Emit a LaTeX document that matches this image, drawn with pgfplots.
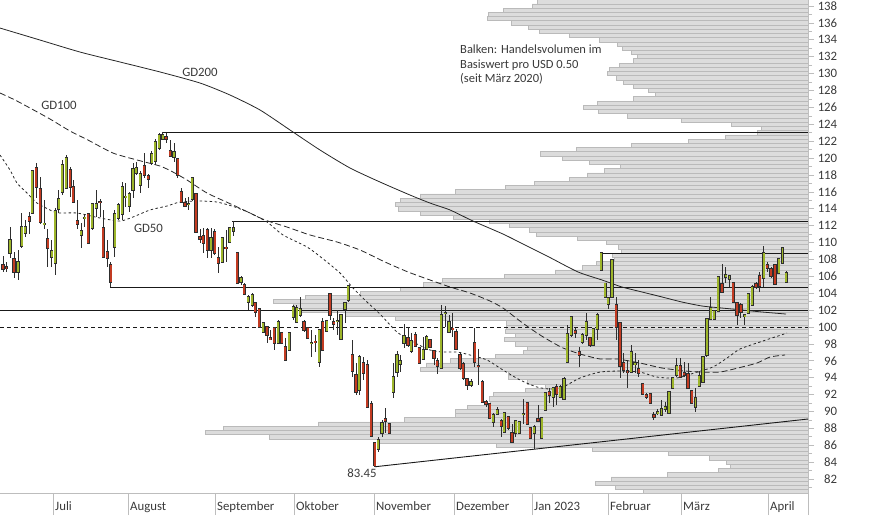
\documentclass[border=0pt]{standalone}
\usepackage{fontspec}
\setmainfont{Carlito}
\usepackage{pgfplots}
\pgfplotsset{compat=1.18}
\usepackage{pgfplotstable}
\definecolor{upc}{HTML}{9DB52A}
\definecolor{dnc}{HTML}{C23B22}
\definecolor{wick}{HTML}{2E2E2E}
\definecolor{txt}{HTML}{3A3A3A}
\definecolor{barfill}{HTML}{DCDCDC}
\definecolor{barline}{HTML}{BABABA}
\definecolor{axgray}{HTML}{BDBDBD}

\pgfplotstableread{
v L
138.5 537
138.0 532
137.5 503
137.0 488
136.5 487
136.0 511
135.5 528
135.0 539
134.5 569
134.0 599
133.5 617
133.0 622
132.5 631
132.0 637
131.5 633
131.0 619
130.5 609
130.0 607
129.5 616
129.0 623
128.5 633
128.0 648
127.5 655
127.0 633
126.5 597
126.0 583
125.5 598
125.0 627
124.5 681
124.0 731
123.5 761
123.0 757
122.5 725
122.0 688
121.5 631
121.0 576
120.5 540
120.0 562
119.5 589
119.0 620
118.5 604
118.0 587
117.5 569
117.0 534
116.5 505
116.0 455
115.5 420
115.0 400
114.5 395
114.0 398
113.5 420
113.0 453
112.5 489
112.0 509
111.5 529
111.0 536
110.5 577
110.0 606
109.5 618
109.0 621
108.5 612
108.0 614
107.5 596
107.0 582
106.5 555
106.0 504
105.5 442
105.0 423
104.5 400
104.0 360
103.5 305
103.0 273
102.5 293
102.0 300
101.5 345
101.0 395
100.5 506
100.0 506
99.5 505
99.0 515
98.5 504
98.0 515
97.5 527
97.0 523
96.5 495
96.0 450
95.5 426
95.0 420
94.5 508
94.0 508
93.5 527
93.0 545
92.5 525
92.0 493
91.5 489
91.0 490
90.5 467
90.0 455
89.5 455
89.0 404
88.5 318
88.0 223
87.5 205
87.0 269
86.5 378
86.0 496
85.5 592
85.0 668
84.5 709
84.0 726
83.5 730
83.0 718
82.5 667
82.0 611
81.5 595
81.0 615
80.5 643
}\profile

\pgfplotstableread{
x o h l c
10 108.75 111.83 108.16 110.29
18 106.51 109.11 105.56 107.69
21.7 109.58 113.49 109.35 111.83
25.3 111.12 112.66 110.65 111.83
32.3 113.49 118.58 113.49 118.46
44.3 112.13 115.03 111.60 112.25
51.7 108.28 110.29 107.10 108.99
55.3 107.57 114.08 106.15 113.73
58.7 113.96 116.21 113.49 115.15
62.3 115.98 119.77 115.62 119.17
66.3 116.45 120.36 116.33 120.00
81.3 110.89 112.31 109.35 111.36
84.7 112.84 113.25 111.83 112.96
92.3 111.71 114.67 111.48 114.56
96.3 114.08 116.21 113.02 114.56
114.7 109.47 113.85 108.28 113.37
118.3 112.90 114.67 112.66 114.44
122.3 113.37 117.16 112.66 116.57
125.7 115.33 117.04 114.20 115.45
129.3 114.32 115.98 113.61 115.74
133 116.21 119.41 115.27 118.70
136.3 118.23 119.53 117.99 118.82
140.3 116.81 118.46 115.86 118.11
151.7 119.41 120.83 119.17 120.48
155.3 119.65 122.25 119.17 121.90
159.3 121.19 122.96 120.95 122.73
162.7 122.25 123.08 122.13 122.73
174 120.12 121.78 119.53 120.71
188.7 114.50 115.39 113.85 114.61
192.3 115.15 117.63 114.91 117.63
211 109.11 111.71 108.16 110.53
222.3 107.69 110.65 107.57 110.53
229.7 110.06 111.83 109.94 111.71
233.5 111.36 112.54 110.77 111.71
241 105.32 106.03 104.97 105.80
248.3 102.95 103.78 102.01 103.55
252.3 102.60 104.02 102.36 103.78
263.3 99.40 100.58 99.28 100.47
278.3 98.10 100.82 97.98 100.58
289.3 97.27 99.40 97.15 99.28
293.3 101.18 102.60 100.82 102.36
296.7 100.58 102.60 100.47 102.24
300.3 101.41 103.55 101.18 102.13
311.3 98.04 99.64 96.44 98.16
319.3 95.85 99.76 95.26 99.64
326.7 99.52 100.82 99.40 100.70
337.3 100.64 102.01 99.05 100.76
341 98.57 101.53 98.45 101.41
345 102.13 102.95 100.47 102.84
348.3 103.19 104.97 102.95 104.85
359.3 92.53 96.68 91.94 96.44
378.3 85.55 86.97 85.19 86.61
382 87.44 88.98 86.97 88.63
393.3 92.30 95.73 91.59 94.07
397 94.66 97.15 94.07 96.68
400.3 95.61 96.68 94.66 95.97
404 98.10 100.35 97.51 98.93
411.3 97.15 99.28 96.91 98.34
423.3 96.21 98.81 96.09 97.27
426.7 97.39 99.05 97.27 98.81
441.3 95.14 102.60 95.02 101.41
445.3 101.59 102.48 99.99 101.71
449 99.40 101.41 99.28 100.58
471 93.13 93.84 92.89 93.48
493.3 88.74 89.81 88.15 89.57
497.3 89.69 90.52 89.57 90.17
504.3 87.56 89.81 87.56 89.81
515.7 87.44 88.98 86.97 88.86
519.3 87.44 88.86 87.33 88.74
523.3 89.63 91.47 88.51 89.75
534.3 87.44 88.39 85.60 88.15
541.7 86.85 89.34 86.73 89.22
545.3 90.17 92.30 90.05 92.18
553.3 91.71 92.89 90.52 92.77
560.3 91.71 93.13 91.59 92.89
564 91.47 94.07 91.35 93.84
567.3 95.85 100.23 95.85 99.17
571.3 99.05 101.29 98.81 101.18
582.3 98.22 99.28 97.98 99.05
586.3 99.05 101.65 98.45 100.58
593.3 97.86 99.88 97.74 99.76
597.3 99.76 101.65 98.45 101.41
601.3 106.74 108.75 106.62 108.75
605.3 103.51 105.24 103.39 105.17
608.3 102.72 103.55 102.13 103.43
612 103.55 108.04 103.55 107.93
631.3 94.66 97.86 94.55 97.03
635.0 95.61 96.92 94.55 95.73
657.7 89.81 90.29 89.57 89.93
661.5 89.57 91.35 89.46 90.29
665.3 90.29 91.11 89.93 90.52
669.1 89.81 92.42 89.81 92.30
672.8 92.77 94.07 92.77 93.96
676.6 94.31 96.32 94.07 95.38
695.5 90.52 92.77 89.93 91.59
699.3 93.01 94.78 92.89 94.19
703.1 93.48 96.44 93.36 96.44
706.9 96.68 101.06 96.44 100.94
710.6 100.94 103.55 100.82 102.24
714.4 100.94 102.01 100.82 101.89
718.2 101.89 105.91 101.77 105.91
725.8 105.91 107.10 105.20 106.15
729.5 105.67 106.15 104.73 106.03
744.7 101.29 101.53 100.23 101.41
748.4 101.65 104.02 101.65 103.90
752.2 102.60 104.97 102.60 104.73
763.6 105.80 109.58 104.73 108.75
778.7 106.39 108.16 106.39 108.04
782.5 107.57 109.47 107.57 109.35
786.3 105.32 106.62 105.20 106.39
}\up

\pgfplotstableread{
x o h l c
3 107.33 108.40 106.51 106.86
6.5 107.10 107.69 106.51 106.93
14 108.04 108.87 105.80 106.51
29.3 113.02 113.61 111.00 112.54
36.3 118.82 119.41 115.27 116.57
40.3 116.33 117.75 112.19 112.43
47.7 110.41 111.60 107.10 109.35
70.3 118.58 118.94 115.39 116.57
73.3 116.57 117.40 114.67 114.79
77.3 112.54 115.03 111.60 112.19
88.3 113.37 113.49 109.82 109.94
100 114.85 115.15 113.02 114.73
103.3 111.71 113.85 108.28 108.28
107.3 108.87 110.29 107.10 108.16
110.7 107.33 107.69 104.73 105.32
144.3 119.05 120.59 117.63 117.99
148.3 117.87 118.11 116.45 117.52
166 122.49 122.96 121.78 122.25
170.3 120.83 122.13 120.12 120.24
177.7 119.89 120.00 117.63 117.99
181.3 115.98 116.45 114.67 114.79
185 114.67 115.27 114.20 114.32
196 115.74 115.86 111.24 111.24
200 110.65 111.60 109.94 110.41
203.3 110.77 111.71 108.75 109.94
207.3 111.48 111.71 108.16 109.11
214.7 111.24 111.60 108.52 108.75
218.3 108.16 109.47 106.39 107.57
226 109.41 111.48 107.69 109.29
237.3 108.75 108.87 105.20 105.20
244.3 104.97 105.20 103.78 103.90
255.3 102.84 102.95 101.18 101.77
259.3 102.13 102.24 99.99 99.99
267 99.99 100.11 98.10 99.05
270.3 98.69 99.64 98.45 98.57
274.3 99.88 99.99 97.27 98.10
281.7 99.28 99.40 97.98 98.10
285.3 97.62 98.69 95.97 96.09
304 100.58 100.82 99.40 99.64
307.7 99.88 99.99 98.69 98.69
315.3 98.30 99.05 97.03 98.18
322.7 100.58 101.06 97.15 97.27
330 103.90 104.02 100.82 101.41
333.7 100.58 101.06 99.64 100.35
352.3 96.68 98.45 94.07 94.78
356 94.31 95.73 91.94 92.30
363.3 95.73 96.44 93.72 94.55
367.3 95.49 96.09 90.40 90.52
371.3 90.88 91.23 86.97 87.09
374.7 86.26 86.38 83.45 83.56
385.3 89.10 90.40 87.44 88.86
389.3 88.51 88.63 87.33 87.44
408 98.69 99.99 97.62 97.86
415.3 99.05 99.40 97.62 97.74
419.3 97.51 97.62 95.73 95.73
430 98.45 98.57 97.51 97.62
434 97.15 97.27 95.49 96.32
437.3 95.97 96.32 94.43 95.38
452.7 99.82 101.65 98.81 99.70
456 99.40 99.76 97.27 97.39
460 96.68 97.03 94.90 95.14
463.3 95.61 95.85 93.72 93.95
467 93.84 93.95 92.53 93.13
474.7 98.10 99.88 95.26 95.85
478.3 95.43 97.39 93.13 95.31
482.3 93.48 93.72 91.00 91.11
486 91.11 91.35 90.52 90.88
489.7 90.88 91.00 89.10 89.22
501.3 88.86 89.10 86.97 88.27
508.3 89.34 89.34 87.80 88.03
512 87.44 88.51 86.38 86.38
527.3 91.00 91.11 88.39 88.51
530.3 88.03 88.15 86.73 86.85
538 89.10 90.76 88.74 88.86
549.3 92.30 92.77 91.00 91.94
556.7 92.89 93.24 90.76 92.06
575.3 99.52 99.88 98.69 99.28
579.3 97.03 97.62 95.26 96.68
590 98.69 98.81 97.62 97.86
616.3 102.60 103.55 98.45 99.99
620 100.47 100.47 93.96 95.38
623.7 95.73 96.92 94.55 94.90
627.5 94.78 96.09 92.77 94.66
638.8 95.02 96.09 94.07 94.55
642.6 93.24 93.36 91.94 92.06
646.4 91.94 92.18 91.47 91.71
650.2 92.06 92.06 91.00 91.00
653.9 89.57 89.93 88.98 89.34
680.4 95.38 96.32 94.07 94.07
684.2 94.55 95.85 94.07 94.31
688.0 94.43 95.73 92.65 92.77
691.7 92.42 92.53 91.00 91.00
722.0 105.08 107.45 104.02 104.14
733.3 105.20 105.32 102.84 102.95
737.1 102.84 102.95 100.23 101.41
740.9 102.60 102.84 101.06 101.77
756.0 105.08 105.32 104.49 104.73
759.8 106.03 106.51 104.14 104.85
767.3 107.33 107.69 106.51 106.98
771.1 106.86 107.10 105.80 106.03
774.9 107.33 107.45 104.97 105.08
}\down

\pgfplotsset{
  wicks/.style={draw=none, error bars/.cd, y dir=both, y explicit, error mark=none,
    error bar style={draw=wick, line width=0.9pt}},
  bodyout/.style={draw=none, error bars/.cd, y dir=both, y explicit, error mark=none,
    error bar style={draw=wick, line width=3.3pt}},
  bodyin/.style={draw=none, error bars/.cd, y dir=both, y explicit, error mark=none,
    error bar style={draw=#1, line width=1.9pt}},
}

\begin{document}
\begin{tikzpicture}
\useasboundingbox (0pt,0pt) rectangle (874pt,-515pt);
% volume profile and price axis
\begin{axis}[at={(0pt,0pt)}, anchor=north west, scale only axis,
  width=808pt, height=493pt,
  xmin=-808, xmax=0, ymin=80.34, ymax=138.71,
  axis x line=none, axis y line*=right,
  axis line style={draw=axgray, line width=0.8pt, -},
  ytick={82,84,...,138}, minor ytick={81,83,...,137},
  tick align=outside, major tick length=6pt, minor tick length=4pt,
  tick style={draw=axgray, line width=0.6pt},
  yticklabel style={anchor=west, text width=23pt, align=right, inner sep=0pt,
    font=\fontsize{12.8}{14}\selectfont, text=txt},
  /pgf/number format/assume math mode=true,
  /pgf/number format/1000 sep={},
]
\addplot[xbar, bar width=4.223pt, draw=barline, fill=barfill, line width=0.6pt]
  table[x expr=\thisrow{L}-808, y=v] {\profile};
\end{axis}
% main chart
\begin{axis}[at={(0pt,0pt)}, anchor=north west, scale only axis,
  width=808pt, height=493pt,
  xmin=0, xmax=808, ymin=80.34, ymax=138.71,
  axis y line=none, axis x line*=bottom,
  axis line style={draw=axgray, line width=0.8pt, -},
  xtick={53,128,215,294,374,454,532,608,681,768,808},
  xticklabels={Juli,August,September,Oktober,November,Dezember,Jan 2023,Februar,März,April,{}},
  tick align=outside, major tick length=22pt,
  tick style={draw=axgray, line width=0.8pt},
  xticklabel style={anchor=base west, inner xsep=0pt, xshift=2pt, yshift=4.5pt,
    font=\fontsize{12.8}{14}\selectfont, text=txt},
]
% horizontal levels
\addplot[draw=black!90, line width=0.9pt] coordinates {(163,123.08) (808,123.08)};
\addplot[draw=black!90, line width=0.9pt] coordinates {(232,112.54) (808,112.54)};
\addplot[draw=black!90, line width=0.9pt] coordinates {(600,108.75) (808,108.75)};
\addplot[draw=black!90, line width=0.9pt] coordinates {(110,104.73) (808,104.73)};
\addplot[draw=black!90, line width=0.9pt] coordinates {(0,102.01) (808,102.01)};
\addplot[draw=black!90, line width=0.9pt, dash pattern=on 4pt off 3pt] coordinates {(0,99.93) (808,99.93)};
\addplot[draw=black!90, line width=0.9pt] coordinates {(375,83.45) (808,89.10)};
% GD200
\addplot[draw=black!85, line width=0.8pt, smooth, tension=0.4] coordinates {
(0,135.39) (40,133.97) (80,132.55) (120,131.37) (160,130.19) (200,128.88)
(230,127.46) (260,125.69) (290,123.32) (320,120.95) (350,118.82) (380,117.16)
(410,115.62) (430,114.67) (450,113.85) (473,112.54) (503,111.00) (525,109.70)
(549,108.28) (578,106.51) (602,105.56) (622,104.73) (642,104.14) (662,103.55)
(682,102.95) (702,102.48) (722,102.24) (742,102.01) (762,101.77) (786,101.53)};
% GD100
\addplot[draw=black!85, line width=0.8pt, dash pattern=on 6pt off 3pt, smooth, tension=0.4] coordinates {
(0,127.70) (15,126.87) (30,125.92) (50,124.62) (70,123.20) (88,122.13)
(113,120.59) (137,119.77) (160,119.05) (173,118.34) (187,117.40) (207,115.86)
(233,114.44) (250,113.49) (265,112.66) (287,111.83) (310,110.89) (337,110.06)
(360,109.11) (385,107.69) (408,106.51) (430,105.56) (450,104.73) (470,104.02)
(490,103.07) (503,102.24) (520,100.70) (537,99.28) (550,98.34) (563,97.51)
(580,96.80) (600,96.21) (617,96.21) (640,95.73) (662,95.14) (686,94.78)
(702,94.66) (720,94.66) (742,95.26) (757,95.73) (770,96.44) (785,96.68)};
% GD50
\addplot[draw=black!85, line width=0.8pt, dash pattern=on 2.5pt off 2.5pt, smooth, tension=0.4] coordinates {
(0,120.36) (10,118.58) (17,117.04) (27,115.86) (37,114.67) (50,113.85)
(58,113.49) (77,113.49) (100,112.90) (120,112.54) (133,113.02) (150,113.85)
(167,114.32) (180,114.79) (200,114.91) (217,114.79) (235,114.20) (250,113.49)
(267,112.43) (283,110.89) (307,109.47) (322,108.16) (340,106.39) (353,104.61)
(367,102.95) (380,101.53) (397,99.40) (413,98.22) (430,97.27) (443,97.03)
(457,97.03) (470,96.68) (487,96.09) (503,94.90) (520,93.72) (537,92.89)
(550,92.65) (563,92.89) (580,93.96) (600,94.66) (620,94.78) (640,94.66)
(657,94.07) (677,93.96) (697,94.66) (713,95.26) (727,96.32) (740,97.39)
(760,98.22) (787,99.28)};
% candles
\addplot[wicks] table[x=x, y expr=(\thisrow{h}+\thisrow{l})/2, y error expr=(\thisrow{h}-\thisrow{l})/2] {\up};
\addplot[wicks] table[x=x, y expr=(\thisrow{h}+\thisrow{l})/2, y error expr=(\thisrow{h}-\thisrow{l})/2] {\down};
\addplot[bodyout] table[x=x, y expr=(\thisrow{o}+\thisrow{c})/2, y error expr=abs(\thisrow{o}-\thisrow{c})/2+0.08] {\up};
\addplot[bodyout] table[x=x, y expr=(\thisrow{o}+\thisrow{c})/2, y error expr=abs(\thisrow{o}-\thisrow{c})/2+0.08] {\down};
\addplot[bodyin=upc] table[x=x, y expr=(\thisrow{o}+\thisrow{c})/2, y error expr=abs(\thisrow{o}-\thisrow{c})/2] {\up};
\addplot[bodyin=dnc] table[x=x, y expr=(\thisrow{o}+\thisrow{c})/2, y error expr=abs(\thisrow{o}-\thisrow{c})/2] {\down};
% labels
\node[font=\fontsize{12.8}{14}\selectfont, text=txt] at (axis cs:200,130.13) {GD200};
\node[font=\fontsize{12.8}{14}\selectfont, text=txt] at (axis cs:59,126.28) {GD100};
\node[font=\fontsize{12.8}{14}\selectfont, text=txt] at (axis cs:148.5,111.71) {GD50};
\node[font=\fontsize{12.8}{14}\selectfont, text=txt] at (axis cs:362,82.71) {83.45};
\node[anchor=north west, align=left, inner sep=0pt, font=\fontsize{12.5}{14.5}\selectfont, text=txt]
  at (axis cs:460,133.4) {Balken: Handelsvolumen im\\Basiswert pro USD 0.50\\(seit März 2020)};
\end{axis}
\end{tikzpicture}
\end{document}
